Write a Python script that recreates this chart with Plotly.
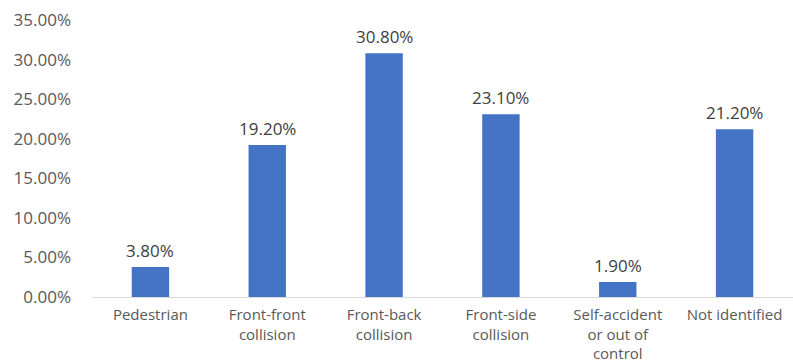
import plotly.graph_objects as go

categories = ["Pedestrian", "Front-front<br>collision", "Front-back<br>collision",
              "Front-side<br>collision", "Self-accident<br>or out of<br>control", "Not identified"]
values = [3.80, 19.20, 30.80, 23.10, 1.90, 21.20]
tick_vals = [0, 5, 10, 15, 20, 25, 30, 35]
tick_text = [f"{v:.2f}%" for v in tick_vals]

font_family = "Open Sans, DejaVu Sans, sans-serif"
gray = "#595959"
fs = 17

fig = go.Figure(go.Bar(
    x=categories, y=values,
    marker=dict(color="#4472C4", line=dict(width=0)),
    width=0.32,
    cliponaxis=False,
))

for c, v in zip(categories, values):
    fig.add_annotation(x=c, y=v, text=f"{v:.2f}%", showarrow=False,
                       yanchor="bottom", yshift=3,
                       font=dict(family=font_family, size=fs, color="#404040"))

fig.update_layout(
    width=793, height=363,
    margin=dict(l=92, r=0, t=20, b=66, autoexpand=False),
    paper_bgcolor="white", plot_bgcolor="white",
    showlegend=False,
    font=dict(family=font_family, size=fs, color=gray),
)
fig.update_yaxes(range=[0, 35], tickvals=tick_vals, ticktext=tick_text,
                 showgrid=False, zeroline=False, showline=False,
                 ticks="", ticklabelstandoff=20, automargin=False,
                 tickfont=dict(family=font_family, size=fs, color=gray))
fig.update_xaxes(showline=True, linecolor="#D9D9D9", linewidth=1,
                 showgrid=False, ticks="", ticklabelstandoff=4, automargin=False,
                 tickfont=dict(family=font_family, size=15, color=gray))

fig.write_html("out.html")
